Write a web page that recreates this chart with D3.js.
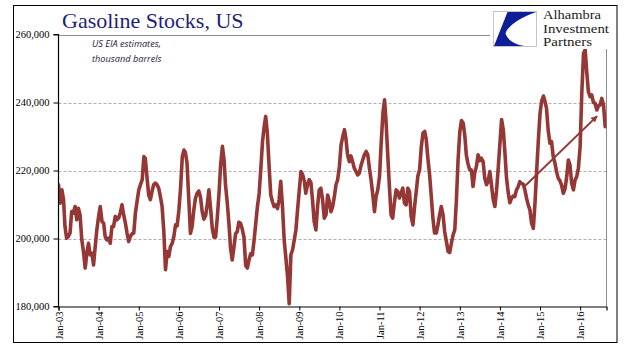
<!DOCTYPE html>
<html><head><meta charset="utf-8">
<script src="https://cdn.jsdelivr.net/npm/d3@7"></script>
<style>body{margin:0;background:#fff}svg{display:block}</style>
</head><body>
<svg id="c" width="641" height="361"></svg>
<script>
// ---- data (thousand barrels), semi-monthly readings (1st and 16th of each month)
const yTicks = [180000, 200000, 220000, 240000, 260000];
const xTickYears = [2003,2004,2005,2006,2007,2008,2009,2010,2011,2012,2013,2014,2015,2016];
const v2003 = [215800,210400,214300,211400,203500,200100,200600,201600,207900,207500,209400,205500,208900,207000,199600,196200,191300,195700,198600,195200,195700,192200,197600,202500];
const v2004 = [206500,209400,205000,204500,200600,199600,200100,198600,203500,203500,206500,205500,206000,207500,209900,207000,204500,201600,199100,200600,201400,201600,207500,210900];
const v2005 = [214300,215800,217300,224100,223600,218200,212800,211400,213800,215800,216300,215800,214800,212400,209400,202500,190800,196200,194700,197600,198600,200600,204000,203700];
const v2006 = [208400,214800,224100,226000,225300,222200,211400,201500,203500,208200,211900,213300,214000,212200,207900,205700,206700,209900,214300,208900,203000,200400,200400,206000];
const v2007 = [213300,221700,227100,223100,215800,210900,204500,197200,193700,197200,201400,202000,204800,204500,202700,200400,192000,191300,193700,195500,195200,199400,204300,209200];
const v2008 = [213100,220200,228500,232900,235900,231000,221200,212800,210900,209400,209900,208800,211400,216800,209400,199600,194200,188800,180800,195200,196700,199600,202500,208400];
const v2009 = [214300,219700,218700,216800,213300,215800,217300,216500,211400,205000,202500,209400,214300,214800,211400,206000,207000,212800,210900,207900,209400,212400,215800,217300];
const v2010 = [221200,227500,230000,232000,229500,224600,222600,224300,222600,220700,219700,218700,219200,221400,223100,224600,225600,224600,220700,217300,212800,207900,212400,214300];
const v2011 = [218200,228000,236900,240800,234700,225100,215300,207000,206000,210400,214300,213800,211900,213300,214800,210400,209900,214800,213800,206500,204000,209400,213800,218400];
const v2012 = [220200,226900,231000,231500,229200,223600,218700,212400,206000,201600,201600,204000,207000,209400,207000,202000,199100,196200,195900,198600,201100,202500,211400,223100];
const v2013 = [231500,234700,233900,230000,224600,222000,220200,220200,215300,219200,221200,224600,222900,223600,222600,217700,215800,216800,219700,215800,211400,209400,214000,220500];
const v2014 = [228000,235000,231900,225000,218200,213800,210500,211800,212500,212300,214300,215200,216700,216200,216000,214300,211800,209800,208400,204500,203000,210300,219600,228500];
const v2015 = [236800,240500,241900,240200,238300,231900,228000,228500,224100,222300,219600,217700,217000,215700,213300,214500,218200,223100,221600,216200,214300,217200,218200,220600];
const v2016 = [227000,242700,254500,255500,249100,243200,241700,242200,240000,239800,237800,239000,239300,241200,239300,232900];
const yearValues = [v2003,v2004,v2005,v2006,v2007,v2008,v2009,v2010,v2011,v2012,v2013,v2014,v2015,v2016];
const arrowFrom = ["2014-08-03", 215000];
const arrowTo = ["2016-06-03", 236000];
const title = "Gasoline Stocks, US";
const subtitle = ["US EIA estimates,", "thousand barrels"];
const logoText = ["Alhambra", "Investment", "Partners"];

// ---- build series
const data = [];
yearValues.forEach((arr, yi) => {
  arr.forEach((v, k) => {
    data.push({date: new Date(xTickYears[yi], Math.floor(k/2), k % 2 ? 16 : 1), value: v});
  });
});

const svg = d3.select("#c");
const L = 58.5, R = 606.5, T = 34.5, B = 306.5;
const x = d3.scaleTime().domain([new Date(2003,0,1), new Date(2016,7,28)]).range([L, R]);
const y = d3.scaleLinear().domain([180000, 260000]).range([B, T]);
const red = "#953735";

// outer frame
svg.append("rect").attr("x",13.5).attr("y",5.5).attr("width",603.5).attr("height",337)
  .attr("fill","#fff").attr("stroke","#000").attr("stroke-width",1);

// gridlines
svg.append("g").selectAll("line").data(yTicks.slice(1)).join("line")
  .attr("x1", L).attr("x2", R)
  .attr("y1", d => Math.round(y(d)) + 0.5).attr("y2", d => Math.round(y(d)) + 0.5)
  .attr("stroke", d => d === 260000 ? "#8c8c8c" : "#b0b0b0")
  .attr("stroke-dasharray", d => d === 260000 ? null : "3,2")
  .attr("stroke-width", 1);
// right border of plot
svg.append("line").attr("x1",R).attr("x2",R).attr("y1",T).attr("y2",B)
  .attr("stroke","#8c8c8c").attr("stroke-width",1);

// line
svg.append("clipPath").attr("id","pc").append("rect")
  .attr("x", L).attr("y", T - 30).attr("width", R - L).attr("height", B - T + 30);
svg.append("path").datum(data)
  .attr("clip-path","url(#pc)")
  .attr("fill","none").attr("stroke",red).attr("stroke-width",3.6)
  .attr("stroke-linejoin","round").attr("stroke-linecap","round")
  .attr("d", d3.line().x(d => x(d.date)).y(d => y(d.value)));

// arrow
const defs = svg.append("defs");
defs.append("marker").attr("id","ah").attr("viewBox","0 0 10 10").attr("refX",9).attr("refY",5)
  .attr("markerWidth",3.2).attr("markerHeight",3.2).attr("orient","auto")
  .append("path").attr("d","M0,0 L10,5 L0,10 Z").attr("fill",red);
const pd = d3.timeParse("%Y-%m-%d");
svg.append("line")
  .attr("x1", x(pd(arrowFrom[0]))).attr("y1", y(arrowFrom[1]))
  .attr("x2", x(pd(arrowTo[0]))).attr("y2", y(arrowTo[1]))
  .attr("stroke", red).attr("stroke-width", 2).attr("marker-end","url(#ah)");

// axes
const yAxis = svg.append("g").attr("transform",`translate(${L},0)`)
  .call(d3.axisLeft(y).tickValues(yTicks).tickSize(5).tickPadding(4).tickFormat(d3.format(",")));
const xAxis = svg.append("g").attr("transform",`translate(0,${B})`)
  .call(d3.axisBottom(x).tickValues(xTickYears.map(yr => new Date(yr,0,1))).tickSize(4).tickFormat(d3.timeFormat("%b-%y")));
[yAxis, xAxis].forEach(g => {
  g.select(".domain").attr("stroke","#000").attr("stroke-width",1.2);
  g.selectAll(".tick line").attr("stroke","#000");
  g.selectAll("text").attr("fill","#000").style("font-family","'Liberation Serif', 'Times New Roman', serif").style("font-size","10.5px");
});
yAxis.select(".domain").attr("d", `M-5,${B}H0V${T}H-5`);
xAxis.selectAll("text").attr("transform","rotate(-90)").attr("x",-5).attr("y",0).attr("dy","0.34em").style("text-anchor","end");

// title
svg.append("text").attr("x",62).attr("y",28).text(title)
  .attr("fill","#1f1f78").style("font-family","'Liberation Serif', 'Times New Roman', serif").style("font-size","22px");
// subtitle
svg.append("g").selectAll("text").data(subtitle).join("text")
  .attr("x",92).attr("y",(d,i) => 47 + i*15).text(d => d)
  .attr("fill","#1a1a40").style("font-family","'Open Sans', 'Liberation Sans', sans-serif")
  .style("font-style","italic").style("font-size","9.2px");

// logo
svg.append("rect").attr("x",490).attr("y",7).attr("width",124).attr("height",42).attr("fill","#fff");
const lg = svg.append("g").attr("transform","translate(493.5,11.5)");
lg.append("rect").attr("width",43).attr("height",35).attr("fill","#fff").attr("stroke","#c4c4c4");
lg.append("path").attr("d","M14,0.5 L42.5,0.5 C28,6 15,13 12,22 C15,30 22,33 31,34.5 L0.5,34.5 Z").attr("fill","#0c1f96");
const logoW = [58, 66, 49];
svg.append("g").selectAll("text").data(logoText).join("text")
  .attr("x",543).attr("y",(d,i) => 19 + i*13.6).text(d => d)
  .attr("textLength",(d,i) => logoW[i]).attr("lengthAdjust","spacingAndGlyphs")
  .attr("fill","#1a1a1a").style("font-family","'Liberation Serif', 'Times New Roman', serif").style("font-size","12.2px");
</script>
</body></html>
